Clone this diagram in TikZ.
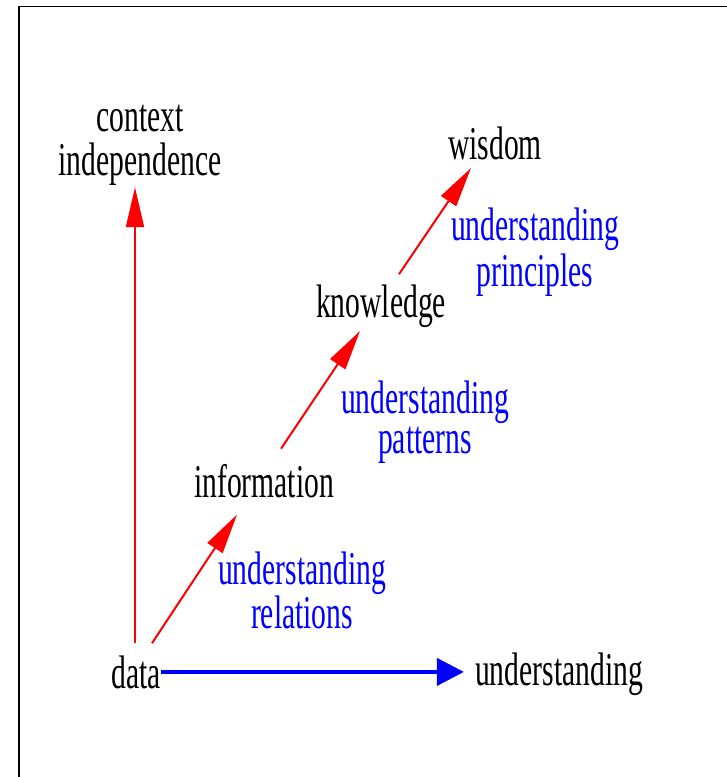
\documentclass[tikz,border=0pt]{standalone}
\usepackage{fontspec}
\setmainfont{Liberation Serif}[FakeStretch=0.63]
\usetikzlibrary{arrows.meta}
\begin{document}
\begin{tikzpicture}[x=1pt,y=-1pt,
  lbl/.style={anchor=base,inner sep=0pt,align=center,font=\fontsize{47}{40}\selectfont},
  blbl/.style={lbl,text=blue},
  redarrow/.style={draw=red,line width=2pt,-{Triangle[length=40pt,width=18pt]}},
  bluearrow/.style={draw=blue,line width=4pt,-{Triangle[length=27pt,width=27pt]}}]
\useasboundingbox (0,0) rectangle (727,777);
\fill[white] (0,0) rectangle (727,777);
\draw[line width=1.8pt] (19,777) -- (19,6.5) -- (727,6.5);
% main labels
\node[lbl] (ctx) at (140,175) {context\\[4pt]independence};
\node[lbl] (wisdom) at (495,159) {wisdom};
\node[lbl] (knowledge) at (381,317) {knowledge};
\node[lbl] (info) at (264,497) {information};
\node[lbl] (data) at (136,688) {data};
\node[lbl] (under) at (559,685) {understanding};
% blue labels
\node[blbl] (up) at (535,286) {understanding\\[2pt]principles};
\node[blbl] (pa) at (425,453) {understanding\\[0pt]patterns};
\node[blbl] (re) at (302,628) {understanding\\[0pt]relations};
% arrows
\draw[redarrow] ([yshift=12pt]data.north -| 135,0) -- ([yshift=-2pt]ctx.south -| 135,0);
\draw[redarrow] ([xshift=16pt,yshift=12pt]data.north) -- ([xshift=-27pt,yshift=-17pt]info.south);
\draw[redarrow] ([xshift=17pt,yshift=15pt]info.north) -- ([xshift=-21pt,yshift=-14pt]knowledge.base);
\draw[redarrow] ([xshift=18pt,yshift=10pt]knowledge.north) -- ([xshift=-24pt,yshift=-9pt]wisdom.base);
\draw[bluearrow] (data.east) -- ([xshift=-11pt]data.east -| under.west);
\end{tikzpicture}
\end{document}
